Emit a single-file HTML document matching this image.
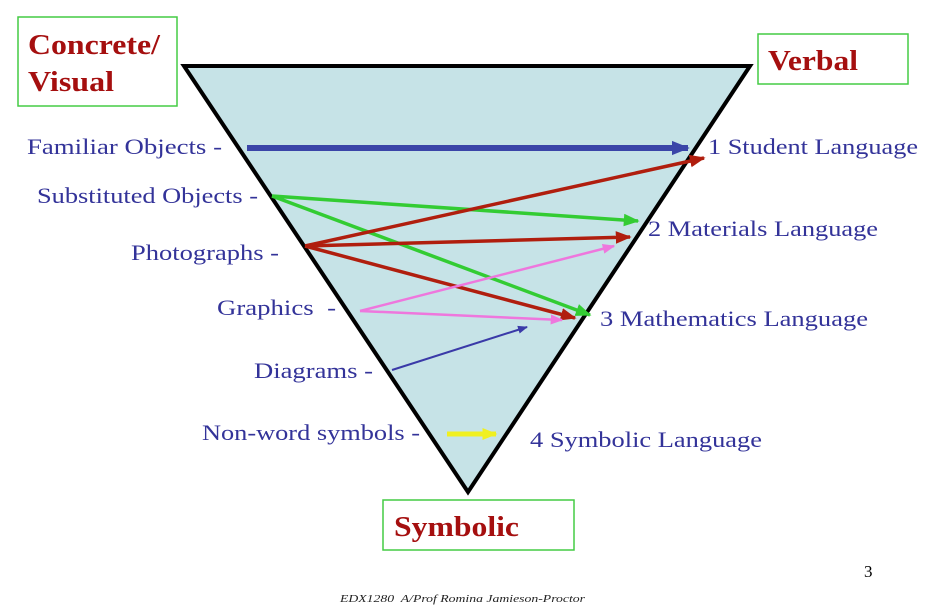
<!DOCTYPE html>
<html><head><meta charset="utf-8"><style>
html,body{margin:0;padding:0;background:#fff;}
svg{display:block;}
text{font-family:"Liberation Serif",serif;}
.l{fill:#333399;font-size:22px;}
.h{fill:#a50f0f;font-size:28px;font-weight:bold;}
</style></head><body>
<svg width="939" height="612" viewBox="0 0 939 612" xmlns="http://www.w3.org/2000/svg">
<defs>
<marker id="mb" viewBox="0 0 10 10" refX="9" refY="5" markerWidth="3" markerHeight="3" orient="auto"><path d="M0,1L10,5L0,9z" fill="#3a45a8"/></marker>
<marker id="mg" viewBox="0 0 10 10" refX="9" refY="5" markerWidth="4.5" markerHeight="4.5" orient="auto"><path d="M0,1L10,5L0,9z" fill="#33cc33"/></marker>
<marker id="mr" viewBox="0 0 10 10" refX="9" refY="5" markerWidth="4.5" markerHeight="4.5" orient="auto"><path d="M0,1L10,5L0,9z" fill="#b01e0e"/></marker>
<marker id="mp" viewBox="0 0 10 10" refX="9" refY="5" markerWidth="5" markerHeight="5" orient="auto"><path d="M0,1L10,5L0,9z" fill="#ee77dd"/></marker>
<marker id="md" viewBox="0 0 10 10" refX="9" refY="5" markerWidth="5" markerHeight="5" orient="auto"><path d="M0,1L10,5L0,9z" fill="#3a3aa8"/></marker>
<marker id="my" viewBox="0 0 10 10" refX="9" refY="5" markerWidth="3" markerHeight="3" orient="auto"><path d="M0,1L10,5L0,9z" fill="#f0f020"/></marker>
</defs>
<polygon points="184,66 750,66 468,492" fill="#c6e3e7" stroke="#000" stroke-width="4"/>
<rect x="18" y="17" width="159" height="89" fill="#fff" stroke="#44cc44" stroke-width="1.5"/>
<text class="h" x="28" y="54" textLength="132" lengthAdjust="spacingAndGlyphs">Concrete/</text>
<text class="h" x="28" y="91" textLength="86" lengthAdjust="spacingAndGlyphs">Visual</text>
<rect x="758" y="34" width="150" height="50" fill="#fff" stroke="#44cc44" stroke-width="1.5"/>
<text class="h" x="768" y="70" textLength="90" lengthAdjust="spacingAndGlyphs">Verbal</text>
<rect x="383" y="500" width="191" height="50" fill="#fff" stroke="#44cc44" stroke-width="1.5"/>
<text class="h" x="394" y="536" textLength="125" lengthAdjust="spacingAndGlyphs">Symbolic</text>

<line x1="247" y1="148" x2="688" y2="148" stroke="#3a45a8" stroke-width="6" marker-end="url(#mb)"/>
<line x1="272" y1="196" x2="638" y2="221" stroke="#33cc33" stroke-width="3.5" marker-end="url(#mg)"/>
<line x1="272" y1="196" x2="590" y2="315" stroke="#33cc33" stroke-width="3.5" marker-end="url(#mg)"/>
<line x1="305" y1="246" x2="704" y2="158" stroke="#b01e0e" stroke-width="3.5" marker-end="url(#mr)"/>
<line x1="305" y1="246" x2="630" y2="237" stroke="#b01e0e" stroke-width="3.5" marker-end="url(#mr)"/>
<line x1="305" y1="246" x2="575" y2="318" stroke="#b01e0e" stroke-width="3.5" marker-end="url(#mr)"/>
<line x1="360" y1="311" x2="614" y2="246" stroke="#ee77dd" stroke-width="2.5" marker-end="url(#mp)"/>
<line x1="360" y1="311" x2="562" y2="320" stroke="#ee77dd" stroke-width="2.5" marker-end="url(#mp)"/>
<line x1="392" y1="370" x2="527" y2="327" stroke="#3a3aa8" stroke-width="2" marker-end="url(#md)"/>
<line x1="447" y1="434" x2="496" y2="434" stroke="#f0f020" stroke-width="5" marker-end="url(#my)"/>

<text class="l" x="27" y="154" textLength="195" lengthAdjust="spacingAndGlyphs">Familiar Objects -</text>
<text class="l" x="37" y="203" textLength="221" lengthAdjust="spacingAndGlyphs">Substituted Objects -</text>
<text class="l" x="131" y="260" textLength="148" lengthAdjust="spacingAndGlyphs">Photographs -</text>
<text class="l" x="217" y="315" textLength="119" lengthAdjust="spacingAndGlyphs">Graphics&#160; -</text>
<text class="l" x="254" y="378" textLength="119" lengthAdjust="spacingAndGlyphs">Diagrams -</text>
<text class="l" x="202" y="440" textLength="218" lengthAdjust="spacingAndGlyphs">Non-word symbols -</text>
<text class="l" x="708" y="154" textLength="210" lengthAdjust="spacingAndGlyphs">1 Student Language</text>
<text class="l" x="648" y="236" textLength="230" lengthAdjust="spacingAndGlyphs">2 Materials Language</text>
<text class="l" x="600" y="326" textLength="268" lengthAdjust="spacingAndGlyphs">3 Mathematics Language</text>
<text class="l" x="530" y="447" textLength="232" lengthAdjust="spacingAndGlyphs">4 Symbolic Language</text>
<text x="864" y="577" font-size="17" fill="#000">3</text>
<text x="340" y="602" font-size="10" font-style="italic" fill="#222" textLength="245" lengthAdjust="spacingAndGlyphs">EDX1280&#160; A/Prof Romina Jamieson-Proctor</text>
</svg>
</body></html>
